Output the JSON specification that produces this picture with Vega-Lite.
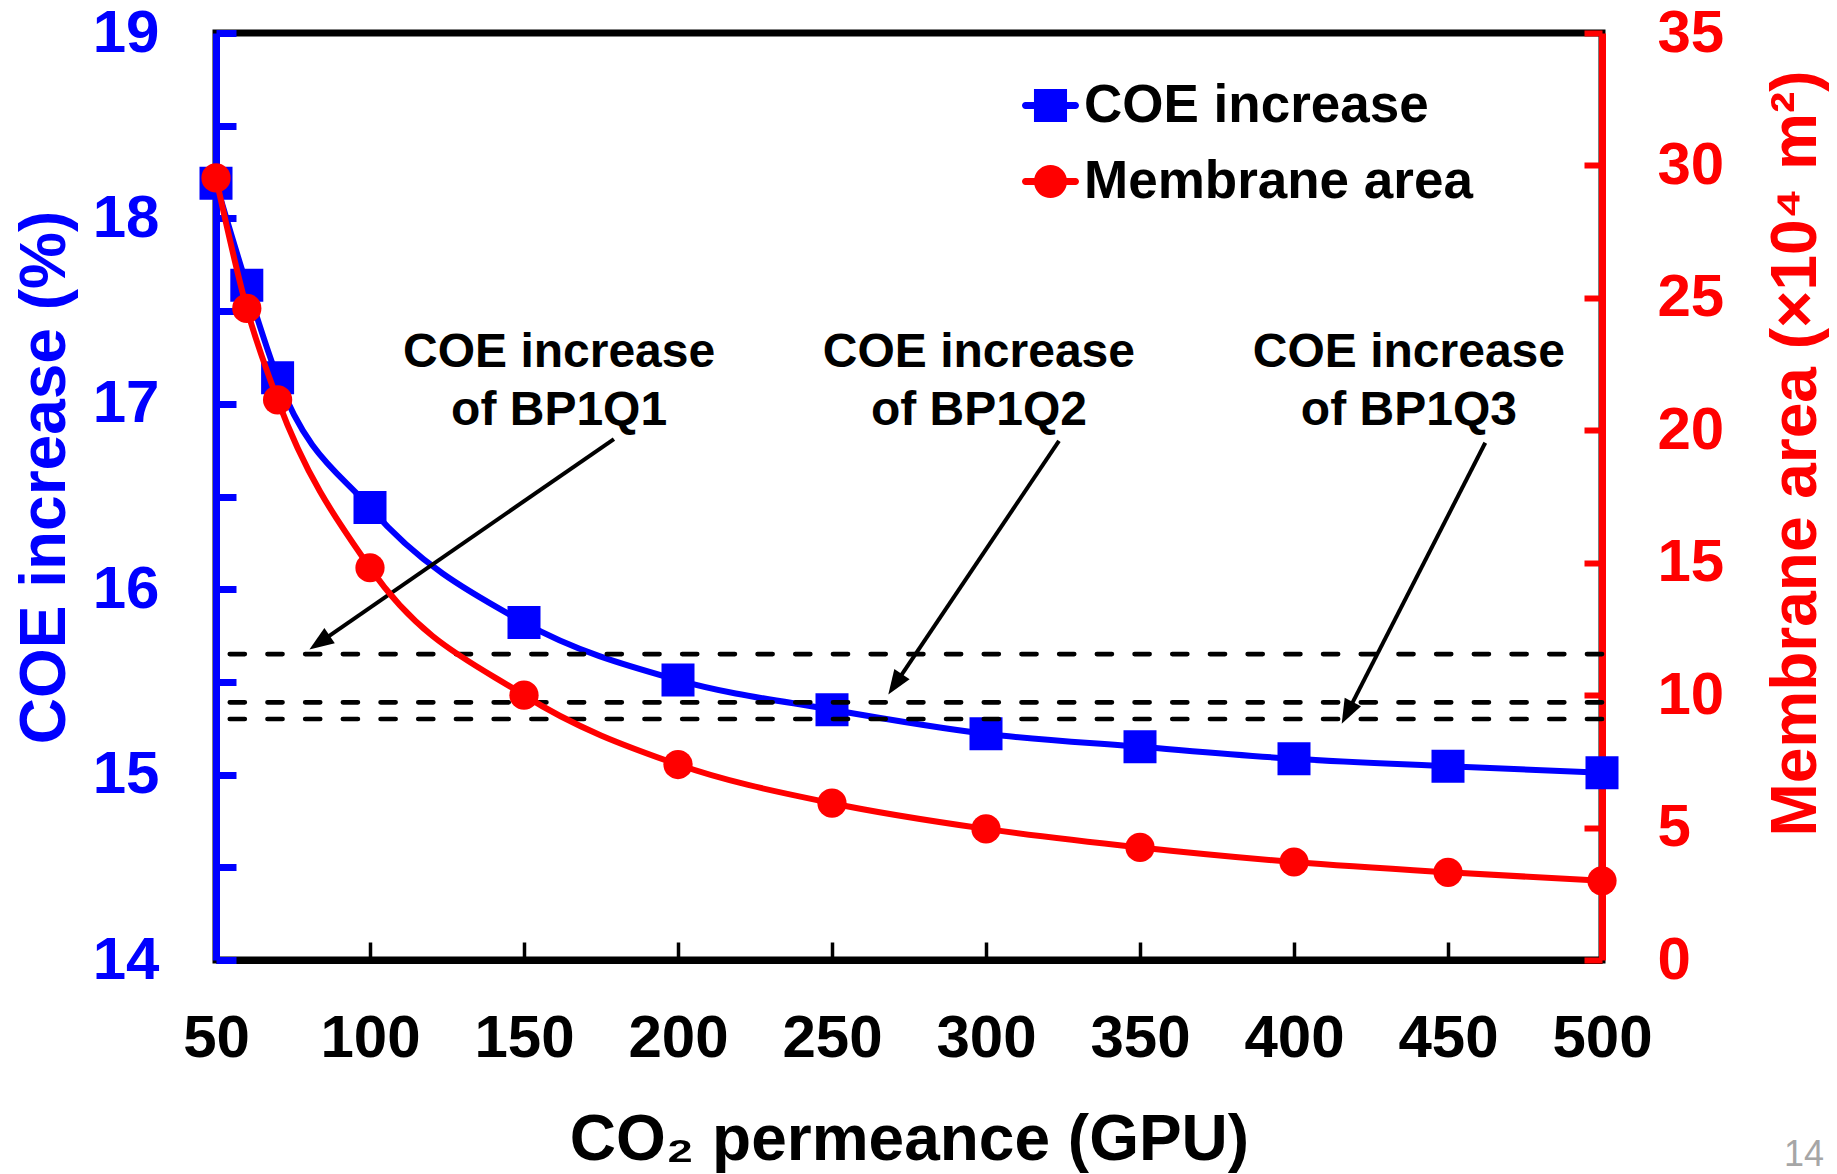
{
  "$schema": "https://vega.github.io/schema/vega-lite/v6.json",
  "width": 1386,
  "height": 927,
  "autosize": {"type": "none"},
  "padding": {"left": 216, "top": 33, "right": 235, "bottom": 214},
  "background": "white",
  "config": {
    "font": "Liberation Sans",
    "view": {"stroke": "black", "strokeWidth": 7}
  },
  "title": {"text": "14", "orient": "bottom", "anchor": "end", "frame": "group", "fontSize": 36, "fontWeight": "normal", "color": "#a6a6a6", "font": "Liberation Sans Narrow, Liberation Sans", "dx": 222, "dy": -38},
  "datasets": {
    "main": [
      {"gpu": 50, "coe": 18.19, "area": 29.53},
      {"gpu": 60, "coe": 17.64, "area": 24.6},
      {"gpu": 70, "coe": 17.14, "area": 21.15},
      {"gpu": 100, "coe": 16.44, "area": 14.81},
      {"gpu": 150, "coe": 15.82, "area": 10.0},
      {"gpu": 200, "coe": 15.51, "area": 7.38},
      {"gpu": 250, "coe": 15.35, "area": 5.92},
      {"gpu": 300, "coe": 15.22, "area": 4.95},
      {"gpu": 350, "coe": 15.15, "area": 4.25},
      {"gpu": 400, "coe": 15.085, "area": 3.7},
      {"gpu": 450, "coe": 15.045, "area": 3.31},
      {"gpu": 500, "coe": 15.01, "area": 2.99}
    ],
    "dashes": [{"level": 15.65}, {"level": 15.39}, {"level": 15.3}],
    "arrows": [
      {"x0": 179.2, "y0": 16.81, "x1": 83.6, "y1": 15.712, "angle": 235.5},
      {"x0": 323.7, "y0": 16.8, "x1": 270.5, "y1": 15.487, "angle": 213.9},
      {"x0": 462.1, "y0": 16.79, "x1": 417.3, "y1": 15.333, "angle": 207.1}
    ],
    "notes": [
      {"gpu": 161.4, "coe": 17.272, "label": ["COE increase", "of BP1Q1"]},
      {"gpu": 297.7, "coe": 17.272, "label": ["COE increase", "of BP1Q2"]},
      {"gpu": 437.3, "coe": 17.272, "label": ["COE increase", "of BP1Q3"]}
    ]
  },
  "layer": [
    {
      "layer": [
        {
          "data": {"name": "main"},
          "mark": {"type": "line", "color": "#0000ff", "strokeWidth": 6, "interpolate": "monotone"},
          "encoding": {
            "x": {"field": "gpu", "type": "quantitative", "scale": {"domain": [50, 500], "nice": false, "zero": false},
              "axis": {"values": [50, 100, 150, 200, 250, 300, 350, 400, 450, 500], "title": "CO₂ permeance (GPU)", "grid": false,
                "labelFlush": false, "labelOverlap": false,
                "domainColor": "black", "domainWidth": 7, "tickColor": "black", "tickWidth": 3.5, "tickSize": -18,
                "labelColor": "black", "labelFontSize": 60, "labelFontWeight": "bold", "labelPadding": 67, "labelBaseline": "top",
                "titleColor": "black", "titleFontSize": 64, "titleFontWeight": "bold", "titleY": 180, "titleBaseline": "middle"}},
            "y": {"field": "coe", "type": "quantitative", "scale": {"domain": [14, 19], "nice": false, "zero": false},
              "axis": {"orient": "left", "values": [14, 14.5, 15, 15.5, 16, 16.5, 17, 17.5, 18, 18.5, 19], "grid": false,
                "labelExpr": "datum.value % 1 === 0 ? format(datum.value, 'd') : ''",
                "labelFlush": false, "labelOverlap": false,
                "title": "COE increase (%)", "domainColor": "#0000ff", "domainWidth": 7,
                "tickColor": "#0000ff", "tickWidth": 7, "tickSize": -20,
                "encode": {"ticks": {"update": {"x2": {"signal": "datum.value % 1 === 0 ? 20 : 13"}}}},
                "labelColor": "#0000ff", "labelFontSize": 60, "labelFontWeight": "bold", "labelPadding": 77, "labelBaseline": "middle",
                "titleColor": "#0000ff", "titleFontSize": 64, "titleFontWeight": "bold", "titleAngle": 270, "titleX": -171, "titleY": 444, "titleBaseline": "middle"}}
          }
        },
        {
          "data": {"name": "main"},
          "mark": {"type": "point", "shape": "square", "filled": true, "size": 1089, "opacity": 1},
          "encoding": {
            "x": {"field": "gpu", "type": "quantitative"},
            "y": {"field": "coe", "type": "quantitative"},
            "color": {"datum": "COE increase", "type": "nominal",
              "scale": {"domain": ["COE increase", "Membrane area"], "range": ["#0000ff", "#ff0000"]},
              "legend": {"title": null, "orient": "none", "legendX": 806, "legendY": 44, "symbolSize": 3249,
                "symbolStrokeWidth": 0, "symbolOpacity": 1, "labelFontSize": 53, "labelFontWeight": "bold",
                "labelColor": "black", "labelFont": "Liberation Sans", "labelOffset": 5, "rowPadding": 20,
                "padding": 0, "labelLimit": 0,
                "encode": {"symbols": {"update": {"shape": {"signal": "datum.value === 'COE increase' ? 'M-0.877,-0.123H-0.58V-0.58H0.58V-0.123H0.877A0.123,0.123,0,0,1,0.877,0.123H0.58V0.58H-0.58V0.123H-0.877A0.123,0.123,0,0,1,-0.877,-0.123Z' : 'M-0.877,-0.123H-0.567A0.58,0.58,0,0,1,0.567,-0.123H0.877A0.123,0.123,0,0,1,0.877,0.123H0.567A0.58,0.58,0,0,1,-0.567,0.123H-0.877A0.123,0.123,0,0,1,-0.877,-0.123Z'"}}}}}}
          }
        },
        {
          "data": {"name": "dashes"},
          "mark": {"type": "rule", "color": "black", "strokeWidth": 4.7, "strokeDash": [15, 22.7], "strokeCap": "round"},
          "encoding": {"y": {"field": "level", "type": "quantitative"}}
        },
        {
          "data": {"name": "arrows"},
          "mark": {"type": "rule", "color": "black", "strokeWidth": 4},
          "encoding": {
            "x": {"field": "x0", "type": "quantitative"},
            "y": {"field": "y0", "type": "quantitative"},
            "x2": {"field": "x1"},
            "y2": {"field": "y1"}
          }
        },
        {
          "data": {"name": "arrows"},
          "mark": {"type": "point", "shape": "M0,-1L0.75,1L-0.75,1Z", "filled": true, "size": 600, "color": "black", "opacity": 1},
          "encoding": {
            "x": {"field": "x1", "type": "quantitative"},
            "y": {"field": "y1", "type": "quantitative"},
            "angle": {"field": "angle", "type": "quantitative", "scale": null}
          }
        },
        {
          "data": {"name": "notes"},
          "mark": {"type": "text", "fontSize": 48, "fontWeight": "bold", "color": "black", "align": "center", "baseline": "middle", "lineHeight": 58},
          "encoding": {
            "x": {"field": "gpu", "type": "quantitative"},
            "y": {"field": "coe", "type": "quantitative"},
            "text": {"field": "label", "type": "nominal"}
          }
        }
      ]
    },
    {
      "layer": [
        {
          "data": {"name": "main"},
          "mark": {"type": "line", "color": "#ff0000", "strokeWidth": 6, "interpolate": "monotone"},
          "encoding": {
            "x": {"field": "gpu", "type": "quantitative"},
            "y": {"field": "area", "type": "quantitative", "scale": {"domain": [0, 35], "nice": false},
              "axis": {"orient": "right", "values": [0, 5, 10, 15, 20, 25, 30, 35], "title": "Membrane area (×10⁴ m²)", "grid": false,
                "labelFlush": false, "labelOverlap": false,
                "domainColor": "#ff0000", "domainWidth": 7, "tickColor": "#ff0000", "tickWidth": 6, "tickSize": -18,
                "labelColor": "#ff0000", "labelFontSize": 60, "labelFontWeight": "bold", "labelPadding": 73, "labelBaseline": "middle",
                "titleColor": "#ff0000", "titleFontSize": 64, "titleFontWeight": "bold", "titleAngle": 270, "titleX": 194, "titleY": 420, "titleBaseline": "middle"}}
          }
        },
        {
          "data": {"name": "main"},
          "mark": {"type": "point", "shape": "circle", "filled": true, "size": 855, "opacity": 1},
          "encoding": {
            "x": {"field": "gpu", "type": "quantitative"},
            "y": {"field": "area", "type": "quantitative"},
            "color": {"datum": "Membrane area", "type": "nominal"}
          }
        }
      ]
    }
  ],
  "resolve": {"scale": {"y": "independent"}}
}
